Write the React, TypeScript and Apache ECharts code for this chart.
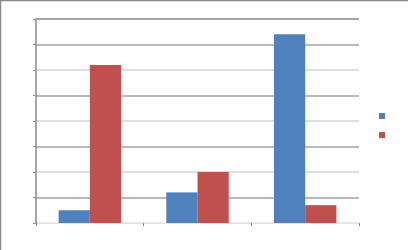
import React, { useEffect, useRef } from "react";
import * as echarts from "echarts";

const categories = ["Category 1", "Category 2", "Category 3"];
const seriesNames = ["Series 1", "Series 2"];
const series1Values = [0.5, 1.2, 7.4];
const series2Values = [6.2, 2.0, 0.7];
const yTicks = [0, 1, 2, 3, 4, 5, 6, 7, 8];

export default function App() {
  const ref = useRef<HTMLDivElement>(null);
  useEffect(() => {
    document.body.style.margin = "0";
    const chart = echarts.init(ref.current!, null, { renderer: "svg" });
    chart.setOption({
      animation: false,
      backgroundColor: "#ffffff",
      grid: { left: 36, right: 49, top: 19, bottom: 27 },
      legend: {
        data: seriesNames,
        orient: "vertical",
        left: 379,
        top: 113,
        padding: 0,
        itemWidth: 6,
        itemHeight: 6,
        itemGap: 13,
        icon: "rect",
        formatter: () => "",
        textStyle: { fontSize: 1 },
      },
      xAxis: {
        type: "category",
        data: categories,
        boundaryGap: true,
        axisLine: { show: true, lineStyle: { color: "#e3e3e3", width: 1 } },
        axisTick: { show: true, length: 3, lineStyle: { color: "#888888" } },
        axisLabel: { show: false },
        splitLine: { show: false },
      },
      yAxis: {
        type: "value",
        min: yTicks[0],
        max: yTicks[yTicks.length - 1],
        interval: 1,
        axisLine: { show: true, lineStyle: { color: "#888888", width: 1.5 } },
        axisTick: { show: true, length: 3, lineStyle: { color: "#999999" } },
        axisLabel: { show: false },
        splitLine: {
          show: true,
          lineStyle: {
            color: [
              "#e3e3e3",
              "#a3a3a3",
              "#d4d4d4",
              "#a3a3a3",
              "#d4d4d4",
              "#a3a3a3",
              "#d4d4d4",
              "#a3a3a3",
              "#888888",
            ],
            width: 1.5,
          },
        },
      },
      graphic: [
        {
          type: "rect",
          shape: { x: 0.5, y: 0.5, width: 440, height: 280 },
          style: { fill: "none", stroke: "#888888", lineWidth: 1.5 },
          silent: true,
        },
      ],
      series: [
        {
          name: seriesNames[0],
          type: "bar",
          data: series1Values,
          barGap: "0%",
          barCategoryGap: "42%",
          itemStyle: { color: "#4f81bd" },
        },
        {
          name: seriesNames[1],
          type: "bar",
          data: series2Values,
          barGap: "0%",
          barCategoryGap: "42%",
          itemStyle: { color: "#c0504d" },
        },
      ],
    });
    return () => chart.dispose();
  }, []);
  return <div ref={ref} style={{ width: 408, height: 250 }} />;
}
